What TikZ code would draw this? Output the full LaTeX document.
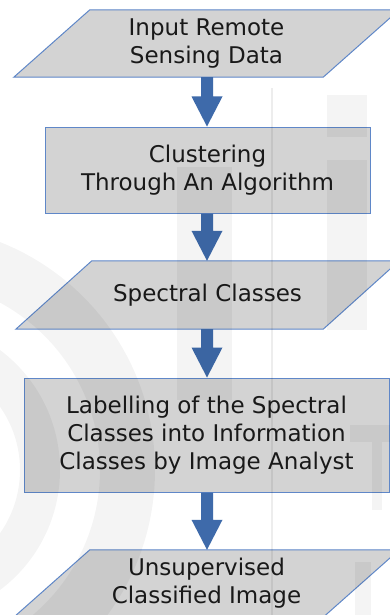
\documentclass[tikz,border=0pt]{standalone}
\usepackage{fontspec}
\setmainfont{DejaVu Sans}
\usetikzlibrary{calc,backgrounds}
\definecolor{boxfill}{RGB}{211,211,211}
\definecolor{boxline}{RGB}{95,135,200}
\definecolor{flowblue}{RGB}{62,106,170}
\definecolor{ink}{RGB}{25,25,25}

\begin{document}
\begin{tikzpicture}[x=1pt,y=-1pt,
  labeltext/.style={text=ink, align=center, inner sep=0pt,
    font=\fontsize{23}{28}\selectfont},
  stepbox/.style={labeltext, rectangle, draw=boxline, fill=boxfill, line width=1pt},
  iobody/.style={labeltext, rectangle, minimum width=309pt, minimum height=67pt},
  iofill/.style={draw=boxline, fill=boxfill, line width=1pt},
  wm/.style={fill=black, fill opacity=0.045, draw=none}
]
\useasboundingbox (0,0) rectangle (390,615);

% process steps
\node[iobody] (input) at (206.5,43.5) {Input Remote\\Sensing Data};
\node[stepbox, minimum width=325pt, minimum height=86pt] (cluster) at (207.5,170)
  {Clustering\\Through An Algorithm};
\node[iobody, minimum width=307pt, minimum height=68pt] (spectral) at (207.5,295)
  {Spectral Classes};
\node[stepbox, minimum width=365pt, minimum height=114pt] (label) at (206.5,435)
  {Labelling of the Spectral\\Classes into Information\\Classes by Image Analyst};
\node[iobody] (output) at (206.5,583.5) {Unsupervised\\Classified Image};

% data (parallelogram) shapes behind their labels
\begin{scope}[on background layer]
  \fill[white] (0,0) rectangle (390,615);
  \foreach \n in {input,spectral,output}
    \draw[iofill] ([xshift=-38pt]\n.south west) -- ([xshift=-38pt]\n.south east)
      -- ([xshift=38pt]\n.north east) -- ([xshift=38pt]\n.north west) -- cycle;
\end{scope}

% block arrows between consecutive steps
\foreach \a/\b in {input/cluster, cluster/spectral, spectral/label, label/output}
  \fill[flowblue] let \p1=(\a.south), \p2=(\b.north) in
    (201pt,\y1) -- (201pt,\y2+30pt) -- (191.5pt,\y2+30pt) -- (207pt,\y2)
    -- (222.5pt,\y2+30pt) -- (213pt,\y2+30pt) -- (213pt,\y1) -- cycle;

% faint background logo
\begin{scope}
  \clip (0,0) rectangle (390,615);
  \fill[wm, even odd rule] (-90,470) circle (245pt) (-90,470) circle (190pt);
  \fill[wm, even odd rule] (-90,470) circle (150pt) (-90,470) circle (110pt);
  \fill[wm, fill opacity=0.07] (271,88) rectangle (273,615);
  \fill[wm] (327,95) rectangle (367,137);
  \fill[wm] (327,160) rectangle (367,330);
  \fill[wm] (177,167) rectangle (232,400);
  \fill[wm] (350,425) rectangle (392,442);
  \fill[wm] (372,442) rectangle (382,510);
  \fill[wm] (355,562) rectangle (371,615);
\end{scope}
\end{tikzpicture}
\end{document}
